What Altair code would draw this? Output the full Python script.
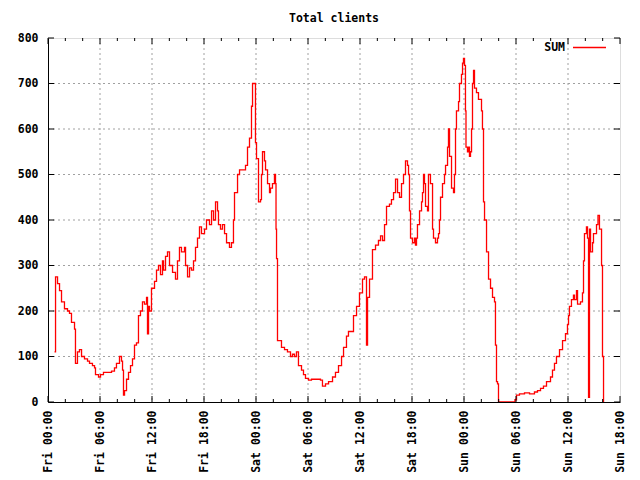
import altair as alt
import pandas as pd

# Hours since Fri 00:00
hours = [0.75, 0.87, 1.10, 1.33, 1.56, 1.90, 2.25, 2.48, 2.71, 3.06, 3.17, 3.40, 3.63, 3.87, 4.21,
         4.56, 4.79, 5.13, 5.37, 5.48, 5.83, 6.06, 6.40, 6.87, 7.33, 7.67, 7.90, 8.25, 8.48, 8.60,
         8.71, 8.83, 9.06, 9.29, 9.52, 9.75, 9.98, 10.21, 10.44, 10.67, 10.90, 11.13, 11.37, 11.48,
         11.60, 11.71, 11.94, 12.29, 12.52, 12.75, 12.98, 13.21, 13.33, 13.56, 13.79, 14.02, 14.37,
         14.71, 14.94, 15.17, 15.40, 15.75, 15.87, 16.10, 16.33, 16.56, 16.79, 17.02, 17.25, 17.48,
         17.71, 18.06, 18.29, 18.63, 18.87, 19.10, 19.33, 19.56, 19.67, 19.90, 20.13, 20.37, 20.60,
         20.94, 21.17, 21.40, 21.52, 21.87, 22.10, 22.44, 22.79, 23.02, 23.25, 23.48, 23.60, 23.83,
         23.94, 24.06, 24.29, 24.52, 24.63, 24.75, 24.98, 25.10, 25.33, 25.56, 25.67, 25.90, 26.13,
         26.25, 26.31, 26.37, 26.48, 26.83, 26.94, 27.29, 27.63, 27.98, 28.21, 28.44, 28.67, 28.90,
         29.25, 29.48, 29.71, 30.06, 30.40, 31.10, 31.44, 31.67, 32.02, 32.37, 32.83, 33.17, 33.52,
         33.87, 34.10, 34.44, 34.67, 35.25, 35.60, 35.94, 36.29, 36.52, 36.75, 36.87, 37.10, 37.44,
         37.79, 38.13, 38.37, 38.60, 38.83, 39.06, 39.40, 39.63, 39.87, 40.10, 40.33, 40.56, 40.79,
         41.02, 41.25, 41.48, 41.60, 41.71, 41.83, 42.06, 42.29, 42.40, 42.52, 42.63, 42.87, 43.10,
         43.21, 43.33, 43.44, 43.56, 43.79, 43.90, 44.13, 44.37, 44.48, 44.71, 44.94, 45.06, 45.17,
         45.29, 45.52, 45.75, 45.87, 46.10, 46.21, 46.33, 46.56, 46.79, 46.90, 47.02, 47.13, 47.37,
         47.48, 47.71, 47.83, 47.94, 48.06, 48.17, 48.23, 48.40, 48.52, 48.63, 48.75, 48.87, 48.98,
         49.10, 49.21, 49.44, 49.67, 49.90, 50.02, 50.13, 50.25, 50.37, 50.60, 50.83, 51.06, 51.29,
         51.52, 51.63, 51.75, 51.87, 51.98, 53.83, 53.88, 54.06, 54.40, 54.98, 55.56, 56.13, 56.48,
         56.83, 57.17, 57.52, 57.98, 58.21, 58.44, 58.67, 59.02, 59.37, 59.71, 59.94, 60.06, 60.17,
         60.40, 60.63, 60.75, 60.98, 61.10, 61.44, 61.67, 61.79, 61.90, 62.13, 62.25, 62.37, 62.48,
         62.60, 62.83, 62.94, 63.29, 63.46, 63.63, 63.87, 63.98, 64.10]

clients = [110, 275, 260, 245, 220, 205, 200, 195, 175, 160, 85, 110, 115, 100, 95,
           90, 85, 80, 75, 60, 55, 60, 65, 65, 68, 75, 85, 100, 90, 70,
           15, 25, 50, 65, 80, 95, 125, 130, 190, 200, 220, 215, 230, 150,
           210, 200, 250, 265, 290, 300, 280, 310, 290, 320, 330, 300, 285,
           270, 310, 340, 330, 340, 300, 275, 295, 290, 310, 340, 360, 385,
           370, 380, 400, 390, 420, 400, 440, 420, 390, 380, 390, 370, 350,
           340, 350, 400, 460, 500, 510, 510, 520, 560, 580, 650, 700, 700,
           570, 535, 440, 445, 500, 550, 530, 510, 480, 460, 470, 480, 500,
           480, 380, 315, 135, 135, 120, 115, 110, 100, 105, 100, 110, 80,
           70, 60, 52, 48, 50, 50, 48, 35, 40, 45, 55, 65, 80,
           100, 120, 145, 155, 190, 210, 240, 270, 275, 125, 230, 270, 335,
           345, 355, 365, 355, 390, 430, 435, 445, 460, 490, 460, 450, 480,
           500, 530, 520, 500, 420, 360, 350, 360, 345, 360, 390, 420, 440,
           460, 500, 480, 430, 420, 500, 480, 380, 360, 350, 360, 370, 400,
           450, 480, 500, 520, 560, 600, 540, 470, 460, 500, 600, 640, 660,
           700, 720, 745, 755, 740, 640, 560, 550, 560, 540, 550, 600, 700,
           729, 690, 680, 665, 665, 640, 600, 440, 400, 330, 270, 250, 230,
           220, 125, 45, 40, 0, 0, 5, 15, 18, 20, 18, 22, 25,
           30, 35, 45, 55, 70, 85, 100, 115, 135, 150, 170, 190, 210,
           225, 235, 225, 245, 215, 220, 240, 310, 370, 385, 360, 10, 380,
           330, 350, 370, 390, 410, 380, 300, 100, 0]

x_ticks = [0, 6, 12, 18, 24, 30, 36, 42, 48, 54, 60, 66]
x_grid = [6, 12, 18, 24, 30, 36, 42, 48, 54, 60]
x_minor = [2, 4, 8, 10, 14, 16, 20, 22, 26, 28, 32, 34, 38, 40, 44, 46, 50, 52, 56, 58, 62, 64]
y_ticks = [0, 100, 200, 300, 400, 500, 600, 700, 800]
y_grid = [100, 200, 300, 400, 500, 600, 700]

W, H = 572, 364
FONT = "DejaVu Sans Mono"

df = pd.DataFrame({"h": hours, "v": clients})

xs = alt.Scale(domain=[0, 66], nice=False, zero=False)
ys = alt.Scale(domain=[0, 800], nice=False)

label_expr = ("['Fri','Sat','Sun'][floor(datum.value/24)] + ' ' + "
              "((datum.value%24)<10?'0':'') + (datum.value%24) + ':00'")

xaxis = alt.Axis(values=x_ticks, labelExpr=label_expr, labelAngle=270, ticks=False,
                 grid=False, title=None, labelFont=FONT, labelFontWeight="bold",
                 labelFontSize=11.5, labelColor="black", labelPadding=8,
                 domainColor="black", labelOverlap=False, zindex=1)
yaxis = alt.Axis(values=y_ticks, format="d", ticks=False, grid=False, title=None,
                 labelFont=FONT, labelFontWeight="bold", labelFontSize=11.5,
                 labelColor="black", labelPadding=10, domainColor="black", zindex=1)

X = lambda: alt.X("h:Q", scale=xs, axis=xaxis)
Y = lambda: alt.Y("v:Q", scale=ys, axis=yaxis)

grid_style = dict(color="#a0a0a0", strokeDash=[2, 3], strokeWidth=1)

xgrid = alt.Chart(pd.DataFrame({"h": x_grid})).mark_rule(**grid_style).encode(
    x=X(), y=alt.value(0), y2=alt.value(H))
ygrid = alt.Chart(pd.DataFrame({"v": y_grid})).mark_rule(**grid_style).encode(
    y=Y(), x=alt.value(0), x2=alt.value(W))

tk = dict(color="black", strokeWidth=1)
xt_df = pd.DataFrame({"h": x_ticks})
xm_df = pd.DataFrame({"h": x_minor})
yt_df = pd.DataFrame({"v": y_ticks})
xtick_b = alt.Chart(xt_df).mark_rule(**tk).encode(x=X(), y=alt.value(H), y2=alt.value(H - 6))
xtick_t = alt.Chart(xt_df).mark_rule(**tk).encode(x=X(), y=alt.value(0), y2=alt.value(6))
xminor_b = alt.Chart(xm_df).mark_rule(**tk).encode(x=X(), y=alt.value(H), y2=alt.value(H - 3))
xminor_t = alt.Chart(xm_df).mark_rule(**tk).encode(x=X(), y=alt.value(0), y2=alt.value(3))
ytick_l = alt.Chart(yt_df).mark_rule(**tk).encode(y=Y(), x=alt.value(0), x2=alt.value(6))
ytick_r = alt.Chart(yt_df).mark_rule(**tk).encode(y=Y(), x=alt.value(W), x2=alt.value(W - 6))

line = alt.Chart(df).mark_line(color="#ff0000", strokeWidth=1.3, interpolate="step-after",
                               clip=True).encode(x=X(), y=Y())

leg_text = alt.Chart(pd.DataFrame({"t": ["SUM"]})).mark_text(
    font=FONT, fontWeight="bold", fontSize=11.5, align="right", baseline="middle",
    color="black").encode(text="t:N", x=alt.value(517), y=alt.value(10))
leg_line = alt.Chart(pd.DataFrame({"t": ["SUM"]})).mark_rule(color="#ff0000", strokeWidth=1.3).encode(
    x=alt.value(525), x2=alt.value(558), y=alt.value(9.5))

chart = alt.layer(xgrid, ygrid, line, xtick_b, xtick_t, xminor_b, xminor_t, ytick_l, ytick_r,
                  leg_text, leg_line).properties(
    width=W, height=H,
    title=alt.TitleParams("Total clients", font=FONT, fontWeight="bold", fontSize=11.5,
                          color="black", anchor="middle", offset=8),
    autosize=alt.AutoSizeParams(type="none"),
    padding={"left": 48, "top": 38, "right": 20, "bottom": 78},
).configure_view(stroke="black", strokeWidth=1).configure(background="white")

chart.save("out.html", embed_options={"renderer": "svg", "actions": False})
